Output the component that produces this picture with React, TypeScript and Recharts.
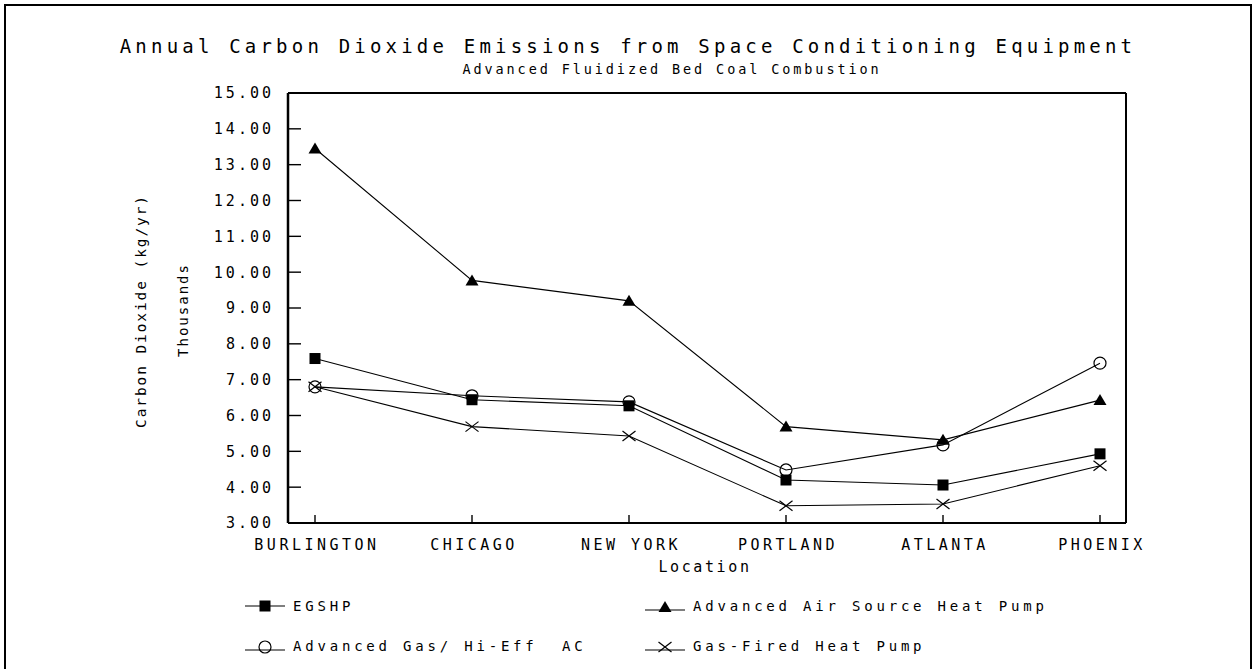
import React from 'react';
import { LineChart, Line, XAxis, YAxis, Legend, Customized } from 'recharts';

const locations = ['BURLINGTON', 'CHICAGO', 'NEW YORK', 'PORTLAND', 'ATLANTA', 'PHOENIX'];
const egshp = [7.59, 6.44, 6.27, 4.2, 4.06, 4.93];
const airSource = [13.45, 9.77, 9.2, 5.69, 5.32, 6.43];
const gasAC = [6.8, 6.55, 6.38, 4.48, 5.18, 7.46];
const gasHP = [6.8, 5.69, 5.43, 3.48, 3.53, 4.6];
const yTicks = [3, 4, 5, 6, 7, 8, 9, 10, 11, 12, 13, 14, 15];

const titleText = 'Annual Carbon Dioxide Emissions from Space Conditioning Equipment';
const subtitleText = 'Advanced Fluidized Bed Coal Combustion';
const yTitle = 'Carbon Dioxide (kg/yr)';
const yUnit = 'Thousands';
const xTitle = 'Location';

type Shape = 'square' | 'triangle' | 'circle' | 'cross';
const seriesList: { key: string; name: string; values: number[]; shape: Shape }[] = [
  { key: 'egshp', name: 'EGSHP', values: egshp, shape: 'square' },
  { key: 'air', name: 'Advanced Air Source Heat Pump', values: airSource, shape: 'triangle' },
  { key: 'gasac', name: 'Advanced Gas/ Hi-Eff  AC', values: gasAC, shape: 'circle' },
  { key: 'gashp', name: 'Gas-Fired Heat Pump', values: gasHP, shape: 'cross' },
];

const data = locations.map((loc, i) => {
  const row: Record<string, any> = { location: loc };
  seriesList.forEach((s) => {
    row[s.key] = s.values[i];
  });
  return row;
});

const FONT = '"DejaVu Sans Mono", "Liberation Mono", monospace';

function Marker({ cx, cy, shape }: { cx?: number; cy?: number; shape: Shape }) {
  if (cx == null || cy == null) return null;
  switch (shape) {
    case 'square':
      return <rect x={cx - 5.5} y={cy - 5.5} width={11} height={11} fill="#000" />;
    case 'triangle':
      return <polygon points={`${cx},${cy - 6} ${cx - 6.5},${cy + 5} ${cx + 6.5},${cy + 5}`} fill="#000" />;
    case 'circle':
      return <circle cx={cx} cy={cy} r={6} fill="none" stroke="#000" strokeWidth={1.2} />;
    case 'cross':
      return (
        <g stroke="#000" strokeWidth={1.2}>
          <line x1={cx - 6.5} y1={cy - 5} x2={cx + 6.5} y2={cy + 5} />
          <line x1={cx - 6.5} y1={cy + 5} x2={cx + 6.5} y2={cy - 5} />
        </g>
      );
  }
  return null;
}

const YTick = (props: any) => {
  const { x, y, payload } = props;
  return (
    <g>
      <line x1={x + 14} x2={x + 27} y1={y} y2={y} stroke="#000" strokeWidth={1.4} />
      <text x={x} y={y} dy="0.36em" textAnchor="end" fontFamily={FONT} fontSize={15} letterSpacing={3} fill="#000">
        {Number(payload.value).toFixed(2)}
      </text>
    </g>
  );
};

const XTick = (props: any) => {
  const { x, y, payload } = props;
  return (
    <g>
      <line x1={x} x2={x} y1={y} y2={y - 8} stroke="#000" strokeWidth={1.4} />
      <text x={x + 2} y={y + 27} textAnchor="middle" fontFamily={FONT} fontSize={15} letterSpacing={3.5} fill="#000">
        {payload.value}
      </text>
    </g>
  );
};

const Titles = () => (
  <g fill="#000" fontFamily={FONT}>
    <text x={628} y={53} textAnchor="middle" fontSize={19} letterSpacing={4.2}>
      {titleText}
    </text>
    <text x={672} y={74} textAnchor="middle" fontSize={13.5} letterSpacing={2.9}>
      {subtitleText}
    </text>
    <text x={146} y={311} textAnchor="middle" fontSize={14.5} letterSpacing={1.9} transform="rotate(-90 146 311)">
      {yTitle}
    </text>
    <text x={188} y={310} textAnchor="middle" fontSize={14} letterSpacing={2} transform="rotate(-90 188 310)">
      {yUnit}
    </text>
    <text x={705} y={572} textAnchor="middle" fontSize={15} letterSpacing={2.6}>
      {xTitle}
    </text>
  </g>
);

const legendCols = [265, 665];
const legendRows = [21, 61];

const renderLegend = () => (
  <svg width={1255} height={80} style={{ display: 'block' }}>
    {seriesList.map((s, i) => {
      const cx = legendCols[i % 2];
      const cy = legendRows[Math.floor(i / 2)];
      return (
        <g key={s.key}>
          <line x1={cx - 20} x2={cx + 20} y1={cy + (s.shape === 'square' ? 0 : 4)} y2={cy + (s.shape === 'square' ? 0 : 4)} stroke="#000" strokeWidth={1.2} />
          <Marker cx={cx} cy={cy + (s.shape === 'square' ? 0 : 1)} shape={s.shape} />
          <text
            x={cx + 28}
            y={cy}
            dy="0.36em"
            fontFamily={FONT}
            fontSize={14}
            letterSpacing={3.8}
            fill="#000"
            style={{ whiteSpace: 'pre' }}
          >
            {s.name}
          </text>
        </g>
      );
    })}
  </svg>
);

export default function App() {
  return (
    <div style={{ position: 'absolute', left: 0, top: 0, width: 1255, height: 669, overflow: 'hidden', background: '#fff' }}>
      <div
        style={{
          position: 'absolute',
          left: 4,
          top: 4,
          width: 1248,
          height: 665,
          boxSizing: 'border-box',
          borderLeft: '2px solid #000',
          borderTop: '2px solid #000',
          borderRight: '2px solid #000',
        }}
      />
      <div style={{ position: 'absolute', left: 0, top: 0 }}>
        <LineChart width={1255} height={669} data={data} margin={{ top: 92, right: 128, bottom: 116, left: 228 }}>
          <XAxis
            dataKey="location"
            height={30}
            interval={0}
            padding={{ left: 27, right: 26 }}
            tickLine={false}
            tickSize={0}
            tickMargin={0}
            tick={<XTick />}
            axisLine={{ stroke: '#000', strokeWidth: 2 }}
          />
          <XAxis
            xAxisId="top"
            orientation="top"
            dataKey="location"
            height={1}
            padding={{ left: 27, right: 26 }}
            tick={false}
            tickLine={false}
            axisLine={{ stroke: '#000', strokeWidth: 2 }}
          />
          <YAxis
            width={60}
            domain={[3, 15]}
            ticks={yTicks}
            interval={0}
            tickLine={false}
            tickSize={0}
            tickMargin={14}
            tick={<YTick />}
            axisLine={{ stroke: '#000', strokeWidth: 2.5 }}
          />
          <YAxis
            yAxisId="right"
            orientation="right"
            width={1}
            domain={[3, 15]}
            tick={false}
            tickLine={false}
            axisLine={{ stroke: '#000', strokeWidth: 2 }}
          />
          {seriesList.map((s) => (
            <Line
              key={s.key}
              dataKey={s.key}
              name={s.name}
              type="linear"
              stroke="#000"
              strokeWidth={1.1}
              isAnimationActive={false}
              dot={(p: any) => <Marker key={`${s.key}-${p.index}`} cx={p.cx} cy={p.cy} shape={s.shape} />}
              activeDot={false}
            />
          ))}
          <Customized component={Titles} />
          <Legend
            layout="horizontal"
            verticalAlign="middle"
            align="center"
            content={renderLegend}
            wrapperStyle={{ position: 'absolute', top: 585, left: 0, width: 1255, height: 80 }}
          />
        </LineChart>
      </div>
    </div>
  );
}
